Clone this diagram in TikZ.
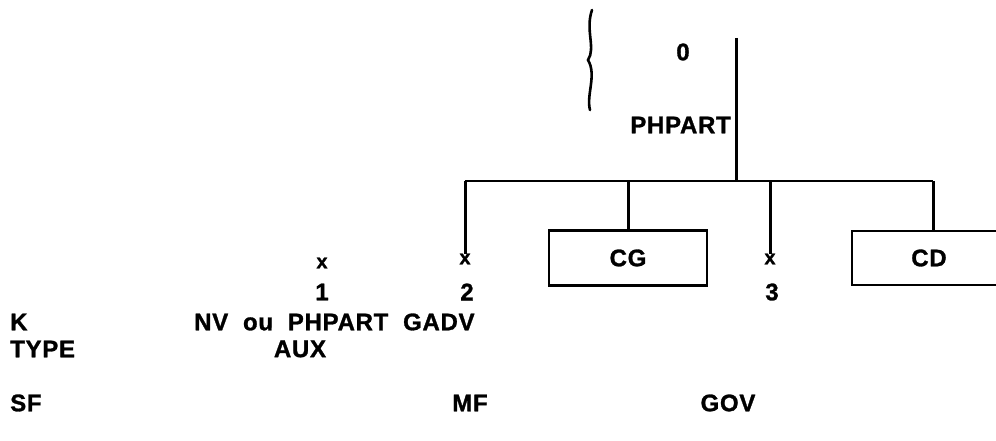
\documentclass[tikz,border=0pt]{standalone}
\usepackage{fontspec}
\setmainfont{Liberation Sans}[LetterSpace=3, BoldFeatures={FakeBold=1.2}]
\begin{document}
\begin{tikzpicture}[x=1pt,y=-1pt,
  lbl/.style={font=\fontsize{24}{26}\selectfont\bfseries, inner sep=0pt},
  xm/.style={font=\fontsize{20}{21}\selectfont\bfseries, inner sep=0pt},
  boxnode/.style={draw, line width=2.2pt, minimum width=158pt, minimum height=55pt, inner sep=0pt, font=\fontsize{24}{26}\selectfont\bfseries},
  stem/.style={line width=3pt},
  bar/.style={line width=2.2pt}]
\useasboundingbox (0,0) rectangle (996,441);
% brace
\draw[line width=2.6pt, line cap=round] (592,10) .. controls (585,30) and (596,48) .. (588,60) .. controls (597,75) and (586,95) .. (590,110);
% top part
\node[lbl] (zero) at (683,52) {0};
\node[lbl, anchor=east] (php) at (731,125) {PHPART};
\coordinate (top) at (736,38);
\coordinate (junc) at (736,181);
\coordinate (hl) at (465,181);
\coordinate (hr) at (933,181);
\draw[stem] (top) -- (junc);
\draw[bar] (hl) -- (hr);
% children
\node[xm] (x2) at (465,259) {x};
\node[xm] (x3) at (770,259) {x};
\node[boxnode] (cg) at (628,258) {CG};
\node[lbl] (cd) at (929,258) {CD};
\coordinate (cdtl) at (852,231);
\coordinate (cdbl) at (852,285);
\coordinate (cdtr) at (997,231);
\coordinate (cdbr) at (997,285);
\coordinate (cdtop) at (933,231);
\draw[line width=2.2pt] (cdtr) -- (cdtl) -- (cdbl) -- (cdbr);
\draw[stem] (hl) -- (x2.north);
\draw[stem] (cg.north |- hl) -- (cg.north);
\draw[stem] (x3.north |- hl) -- (x3.north);
\draw[stem] (cdtop |- hl) -- (cdtop);
% numbers
\node[xm] (x1) at (322,263) {x};
\node[lbl] (n1) at (322,292) {1};
\node[lbl] (n2) at (467,292) {2};
\node[lbl] (n3) at (772,292) {3};
% bottom rows
\node[lbl, anchor=west] (k) at (10,322) {K};
\node[lbl, anchor=west] (kval) at (194,322) {NV\ \ ou\ \ PHPART\ \ GADV};
\node[lbl, anchor=west] (type) at (10,349) {TYPE};
\node[lbl] (aux) at (300,349) {AUX};
\node[lbl, anchor=west] (sf) at (10,403) {SF};
\node[lbl] (mf) at (470,403) {MF};
\node[lbl] (gov) at (728,403) {GOV};
\end{tikzpicture}
\end{document}
